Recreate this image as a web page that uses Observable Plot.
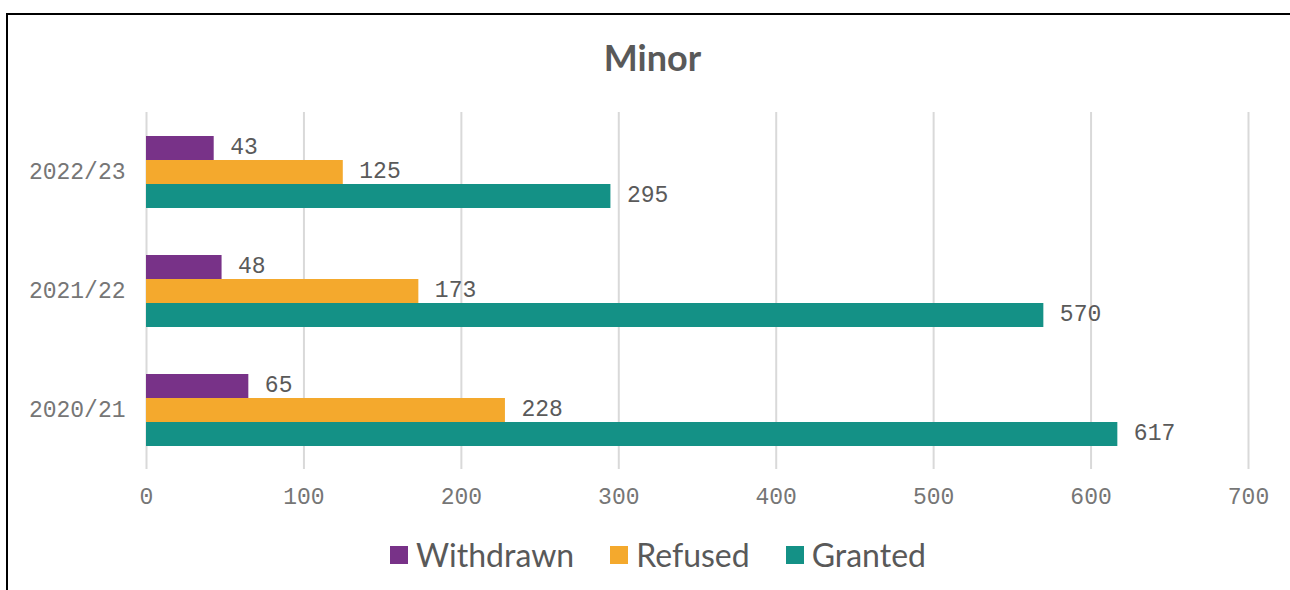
<!DOCTYPE html>
<html>
<head>
<meta charset="utf-8">
<script src="https://cdn.jsdelivr.net/npm/d3@7"></script>
<script src="https://cdn.jsdelivr.net/npm/@observablehq/plot@0.6"></script>
<style>
  html, body { margin: 0; padding: 0; background: #fff; width: 1290px; height: 590px; overflow: hidden; }
  #frame { position: absolute; left: 6px; top: 13px; width: 1400px; height: 700px; border-left: 2px solid #000; border-top: 2px solid #000; }
  #title { position: absolute; left: 0; width: 1305px; top: 34px; text-align: center; font-family: Lato, sans-serif; font-weight: 700; font-size: 36px; color: #595959; line-height: 46px; }
  #chart { position: absolute; left: 0; top: 100px; }
  #legend { position: absolute; left: 0; width: 1316px; top: 532px; display: flex; justify-content: center; font-family: Lato, sans-serif; font-size: 32px; color: #595959; line-height: 46px; }
  .item { display: flex; align-items: center; margin: 0 18px; }
  .sw { width: 18px; height: 18px; margin-right: 8px; }
</style>
</head>
<body>
<div id="frame"></div>
<div id="title">Minor</div>
<div id="chart"></div>
<div id="legend"></div>
<script>
const years = ["2022/23", "2021/22", "2020/21"];
const series = ["Withdrawn", "Refused", "Granted"];
const withdrawn = [43, 48, 65];
const refused = [125, 173, 228];
const granted = [295, 570, 617];
const colors = ["#783288", "#F4A92D", "#149186"];
const xTicks = [0, 100, 200, 300, 400, 500, 600, 700];

const valuesBySeries = [withdrawn, refused, granted];
const rows = [];
years.forEach((yr, i) => {
  series.forEach((s, j) => {
    rows.push({year: yr, series: s, value: valuesBySeries[j][i]});
  });
});

const chart = Plot.plot({
  width: 1290,
  height: 419,
  marginLeft: 146,
  marginRight: 42,
  marginTop: 12,
  marginBottom: 50,
  style: {fontFamily: "'Liberation Mono', monospace", fontSize: "23px", color: "#767676", background: "transparent"},
  facet: {data: rows, y: "year"},
  fy: {domain: years, padding: 0, label: null, axis: "left", tickSize: 0, tickPadding: 21},
  y: {domain: series, paddingInner: 0, paddingOuter: 0.93, axis: null},
  x: {domain: [0, 700], ticks: xTicks, tickSize: 0, tickPadding: 18, label: null, tickFormat: d => String(d)},
  color: {domain: series, range: colors},
  marks: [
    Plot.ruleX(xTicks, {stroke: "#d9d9d9", strokeWidth: 2}),
    Plot.barX(rows, {x: "value", y: "series", fill: "series"}),
    Plot.text(rows, {x: "value", y: "series", text: d => String(d.value), textAnchor: "start", dx: 16, dy: -2, fill: "#5a5a5a", fontSize: 23})
  ]
});
document.getElementById("chart").appendChild(chart);

const legend = document.getElementById("legend");
series.forEach((s, i) => {
  const item = document.createElement("div");
  item.className = "item";
  const sw = document.createElement("div");
  sw.className = "sw";
  sw.style.background = colors[i];
  const label = document.createElement("span");
  label.textContent = s;
  item.appendChild(sw);
  item.appendChild(label);
  legend.appendChild(item);
});
</script>
</body>
</html>
